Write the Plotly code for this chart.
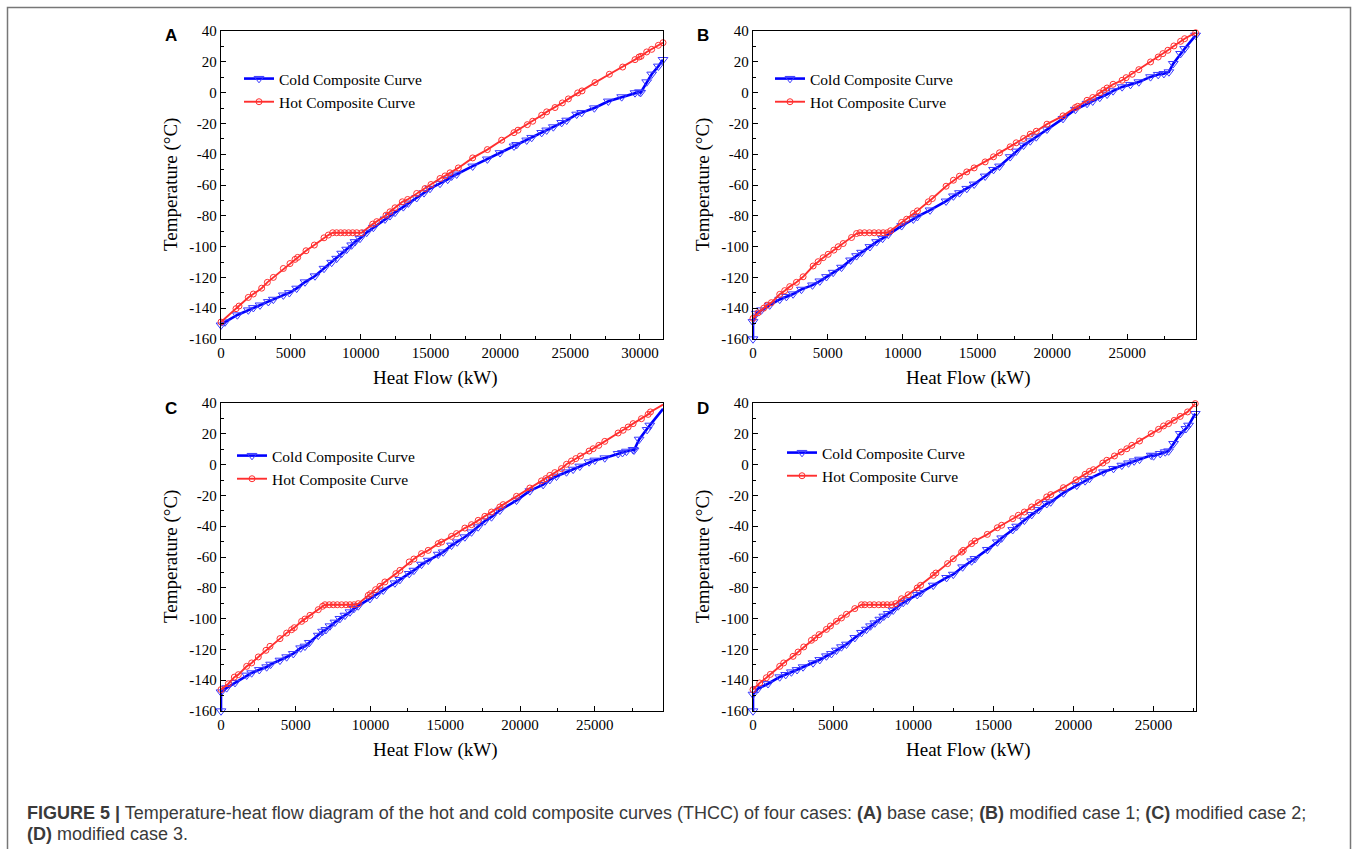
import plotly.graph_objects as go

W, H = 1357, 849

# ---------------- data ----------------
A_hot_x = [0, 1074, 1289, 1957, 2315, 2912, 3318, 3748, 4464, 4941, 5300, 5490, 6087, 6684, 7376, 7686, 7996, 8280, 8570, 8850,
           9140, 9430, 9720, 10073, 10861, 11150, 11816, 12102, 12460, 12985, 13367, 14012, 14608, 15038, 15683, 16040, 16398, 16995, 18022, 19072,
           20098, 20981, 21268, 21936, 22318, 22963, 23321, 23918, 24443, 24873, 25541, 25851, 26782, 27808, 28763, 29646, 29933, 30076, 30482, 30840,
           31318, 31650]
A_hot_y = [-149, -140.3, -138.6, -133, -130.8, -127, -123.2, -120, -114.2, -111, -108.3, -107, -102.7, -99, -94.3, -92.5, -91, -91, -91, -91,
           -91, -91, -91, -91, -85.4, -83.8, -79.6, -77.4, -74.8, -70.9, -69.4, -65.5, -62.3, -59.7, -55.8, -54.1, -52.1, -48.9, -42.4, -37,
           -30.9, -26, -24.4, -20.8, -18.6, -14.7, -12.5, -9.7, -6.7, -4.1, -0.2, 1.1, 6.5, 11.9, 16.6, 21.4, 23.1, 23.6, 26.4, 28.1,
           30.7, 32.4]
A_cold_x = [0, 287, 1170, 1957, 2315, 2793, 3390, 3748, 4464, 4894, 5418, 6015, 6731, 7376, 7925, 8283, 8641, 8999, 9357, 9596,
            9954, 10431, 10909, 11744, 12102, 12460, 13057, 13415, 14012, 14537, 14966, 15683, 16231, 16518, 16876, 18022, 19072, 19979, 20981, 21173,
            21889, 22247, 22963, 23321, 23798, 24395, 24753, 25469, 25827, 26735, 27737, 28692, 29646, 29957, 30050, 30482, 30840, 31318, 31650]
A_cold_y = [-151, -149, -144.4, -141.2, -139.7, -138, -135.8, -134.3, -131.5, -130, -127.1, -123, -119.1, -114.2, -110.3, -107.7, -104.4, -101.8, -99, -96.9,
            -94.7, -90.8, -87.6, -82.2, -80, -77.8, -74.2, -71.8, -68.3, -65.1, -62.3, -59, -56.4, -54.3, -53, -47.8, -43.2, -39.1, -34.8, -33.8,
            -30.9, -29.2, -26, -24.4, -22.3, -19.5, -18, -14.1, -13, -10, -5.6, -2.8, -0.2, 0.4, 0, 6.9, 11.9, 17.1, 21.4]

B_hot_x = [0, 335, 714, 937, 1228, 1786, 2120, 2455, 2902, 3348, 4018, 4352, 4687, 5022, 5401, 5692, 6026, 6584, 6919, 7142,
           7450, 7780, 8100, 8400, 8700, 8970, 9196, 9932, 10267, 10714, 10982, 11718, 11986, 12901, 13392, 13794, 14285, 14776, 15512, 16070,
           16472, 17186, 17588, 18079, 18526, 18927, 19642, 20713, 21539, 21695, 22320, 22700, 23168, 23436, 23659, 24061, 24664, 24932, 25334, 25780,
           26561, 27074, 27387, 27722, 28123, 28570, 28838, 29574]
B_hot_y = [-146.6, -143, -140, -138, -136.4, -131, -128.6, -126, -123.2, -119.6, -112.6, -109.8, -107.2, -105, -102.3, -100.1, -98, -94.1, -91.5, -91,
           -91, -91, -91, -91, -91, -91, -89.7, -84.3, -82.2, -78.5, -76.8, -70.9, -68.8, -60.8, -56.9, -54.3, -51.5, -48.9, -45, -41.7,
           -39.1, -35.2, -32.6, -29.8, -27, -25.1, -20.5, -15.1, -9.7, -8.9, -5, -3.2, -0.2, 1.5, 3, 5.4, 8, 9.7, 11.9, 14.9,
           19.9, 23.1, 25.3, 27.5, 30.3, 33.3, 35, 38.9]
B_cold_x = [0, 0, 223, 558, 1116, 1786, 2232, 2678, 3236, 3973, 4464, 4910, 5357, 5915, 6517, 6919, 7254, 7812, 8258, 8660,
            9040, 9932, 10714, 10982, 11830, 12901, 13392, 13794, 14285, 14776, 15512, 16070, 16472, 17186, 17588, 18079, 18526, 18927, 19642, 20713,
            21539, 22320, 22700, 23168, 23659, 24061, 24664, 25222, 25780, 26561, 27074, 27454, 27789, 28079, 28570, 28838, 29574]
B_cold_y = [-160, -148.8, -143.4, -141.2, -138, -134.3, -132.5, -130.8, -127.8, -125, -122.4, -119.6, -116.8, -113.5, -108.8, -106, -103.8, -100.1, -96.9, -94.7,
            -92.1, -86.5, -82.2, -80.6, -76.3, -70.5, -67.2, -65.1, -62.3, -59.5, -54.3, -50, -47.8, -41.7, -38.1, -34.2, -31.4, -28.8, -23.8, -16.9,
            -11, -7.1, -5.6, -3.2, -1.1, 1.1, 3.7, 5.2, 6.9, 10.2, 11.7, 12.3, 13.4, 18.8, 25.3, 28.5, 37.2]

C_hot_x = [0, 490, 891, 1159, 1716, 2050, 2495, 3008, 3275, 3944, 4389, 4723, 4902, 5392, 5615, 5949, 6506, 6795, 6951, 7240,
           7510, 7780, 8066, 8355, 8622, 8890, 9179, 9848, 10005, 10338, 10628, 10962, 11697, 11964, 12588, 12900, 13413, 13858, 14527, 14750,
           15418, 15752, 16309, 16755, 17200, 17646, 18091, 18648, 18871, 19763, 20654, 21434, 21723, 21991, 22325, 22771, 23104, 23439, 23728, 24040,
           24619, 24887, 25266, 25667, 26558, 26893, 27227, 27561, 28118, 28564, 28720, 29566]
C_hot_y = [-146.1, -142.3, -138, -136.4, -131, -128.8, -124.9, -120.6, -118, -113, -109.4, -107.2, -105.9, -101.8, -100.3, -97.9, -94.2, -92, -91, -91,
           -91, -91, -91, -91, -91, -91, -90.3, -84.9, -83.8, -81.2, -79, -76.2, -70.8, -68.7, -63.2, -61.3, -57.8, -55.7, -51.3, -50.3,
           -46.6, -44.8, -41.2, -39, -36.2, -33.6, -30.8, -27.5, -26, -20.6, -15.2, -10.6, -9.1, -7, -5.2, -2.6, 0.2, 2.3, 3.9, 5.6,
           8.8, 10.3, 12.5, 15.1, 20.5, 22.3, 24.4, 26.6, 29.8, 32.6, 34.2, 38.9]
C_cold_x = [0, 0, 379, 936, 1716, 2050, 2562, 3053, 3320, 3944, 4389, 4835, 5325, 5615, 5904, 6506, 6795, 7018, 7286, 7620,
            7954, 8288, 8622, 8890, 9179, 9959, 10405, 10850, 11630, 11964, 12588, 12900, 13413, 13858, 14527, 14861, 15418, 15797, 16309, 16755,
            17200, 17646, 18091, 18648, 19763, 20654, 21545, 21991, 22437, 23104, 23550, 23996, 24619, 24998, 25667, 26558, 26848, 27116, 27561, 27620,
            27963, 28497, 28675, 29566]
C_cold_y = [-160, -147.7, -145, -141.6, -136.8, -135.3, -133.2, -131.4, -129.7, -127.1, -124.9, -122.8, -119.1, -118, -115.6, -110.9, -108.3, -107.2, -104.8, -102.4,
            -100, -97.9, -95.7, -93.5, -91.8, -87.1, -84.5, -81.6, -76.9, -74.7, -70.8, -68.7, -64.8, -62.2, -58.3, -56.8, -52.4, -50.3, -47, -43.8,
            -40.5, -36.6, -34, -29.7, -23.2, -17.1, -13, -9.8, -7.6, -4.8, -3.1, -1.1, 1.7, 2.8, 4.3, 7.1, 7.7, 8.6, 9.7, 9.3,
            16.4, 22.7, 25.5, 36.3]

D_hot_x = [0, 417, 833, 1083, 1667, 1917, 2500, 2812, 3166, 3646, 3854, 4125, 4583, 4833, 5208, 5521, 5833, 6354, 6770, 6979,
           7290, 7560, 7850, 8125, 8375, 8645, 8917, 9271, 9687, 10250, 10458, 11250, 11416, 12145, 12500, 13021, 13125, 13645, 13854, 14625,
           15250, 15521, 16208, 16562, 16937, 17395, 17812, 18333, 18583, 19375, 20166, 20729, 21000, 21250, 21833, 22083, 22562, 22979, 23333, 23645,
           24125, 24854, 25312, 25625, 25937, 26291, 26666, 27125, 27604]
D_hot_y = [-146.1, -141.8, -138.4, -136.2, -131, -128.8, -124.5, -121.7, -118.4, -114.1, -112.6, -110.4, -107, -104.8, -101.8, -99.6, -97.2, -93.5, -91, -91,
           -91, -91, -91, -91, -91, -91, -90.3, -87.1, -84.5, -80.1, -78.4, -71.9, -70.4, -64.3, -61.1, -56.8, -55.7, -51.3, -49.6, -45.3,
           -41, -39.4, -35.1, -32.9, -30.8, -27.5, -24.7, -21, -19.5, -15, -9.8, -6.3, -4.4, -3.3, 1, 2.8, 5.6, 8.2, 10.3, 12.5,
           15.3, 20.1, 22.9, 25.1, 26.6, 28.7, 31.3, 34.2, 39.6]
D_cold_x = [0, 0, 312, 937, 1667, 2041, 2396, 2750, 3125, 3750, 4166, 4583, 4896, 5208, 5521, 5833, 6354, 6770, 7083, 7333,
            7604, 7916, 8166, 8437, 8750, 9062, 9375, 9625, 10250, 10458, 11250, 12083, 12500, 13083, 13645, 13854, 14625, 15250, 15521, 16208,
            16458, 16937, 17395, 17812, 18333, 18583, 19375, 20208, 20729, 21000, 21875, 22500, 23020, 23437, 23791, 24125, 24854, 25000, 25416, 25729,
            25937, 26250, 26666, 27020, 27187, 27604]
D_cold_y = [-160, -149.2, -145.5, -142.3, -137.9, -136.4, -134.7, -133.2, -131.4, -128.8, -126.7, -124.3, -122.8, -120.6, -118.4, -116.7, -112.4, -109.1, -107, -104.8,
            -102.9, -100.5, -98.5, -96.8, -94.6, -91.8, -89.6, -88.1, -84.5, -83.2, -78.4, -73.4, -71.3, -66.5, -62.6, -61.1, -55.2, -50.3, -47.7, -42.3,
            -40.1, -36.2, -32.5, -29.3, -25.4, -24.3, -18.4, -13.5, -10.6, -9.1, -4.8, -2.6, -0.5, 1, 2.3, 3.4, 6, 5.6, 7.1, 8.2,
            8.8, 13.6, 20.1, 23.3, 25.5, 33.1]

x_max = [31650, 29600, 29560, 27650]
panel_letters = ["A", "B", "C", "D"]
y_tick_vals = [-160, -140, -120, -100, -80, -60, -40, -20, 0, 20, 40]
y_tick_text = ["-160", "-140", "-120", "-100", "-80", "-60", "-40", "-20", "0", "20", "40"]
cold_name = "Cold Composite Curve"
hot_name = "Hot Composite Curve"
x_title = "Heat Flow (kW)"
y_title = "Temperature (°C)"

# ---------------- layout geometry (pixels) ----------------
boxes = [(221, 663, 31, 339), (753, 1196, 31, 339), (221, 663, 403, 711), (753, 1196, 403, 711)]
legend_pos = [(239, 62), (770, 62), (232, 439), (782, 436)]

def px_x(p):
    return p / W

def px_y(p):
    return 1 - p / H

SERIF = "Liberation Serif, Times New Roman, serif"
BLUE = "#0000FF"
RED = "#FF2F2F"

series = [(A_cold_x, A_cold_y, A_hot_x, A_hot_y), (B_cold_x, B_cold_y, B_hot_x, B_hot_y),
          (C_cold_x, C_cold_y, C_hot_x, C_hot_y), (D_cold_x, D_cold_y, D_hot_x, D_hot_y)]

fig = go.Figure()
layout = dict(template="none", width=W, height=H,
              margin=dict(l=0, r=0, t=0, b=0, pad=0, autoexpand=False),
              paper_bgcolor="white", plot_bgcolor="white", showlegend=True)
annotations = []

for i, (cx, cy, hx, hy) in enumerate(series):
    k = "" if i == 0 else str(i + 1)
    leg = "legend" if i == 0 else f"legend{i + 1}"
    fig.add_trace(go.Scatter(x=cx, y=cy, mode="lines+markers", name=cold_name,
                             line=dict(color=BLUE, width=2.6),
                             marker=dict(symbol="triangle-down-open", size=8.5, color="#3a3aff",
                                         line=dict(width=1)),
                             xaxis="x" + k, yaxis="y" + k, legend=leg, cliponaxis=False))
    fig.add_trace(go.Scatter(x=hx, y=hy, mode="lines+markers", name=hot_name,
                             line=dict(color=RED, width=1.9),
                             marker=dict(symbol="circle-open", size=6, color=RED,
                                         line=dict(width=1)),
                             xaxis="x" + k, yaxis="y" + k, legend=leg, cliponaxis=False))
    l, r, t, b = boxes[i]
    layout["xaxis" + k] = dict(domain=[px_x(l), px_x(r)], anchor="y" + k, range=[0, x_max[i]],
                               automargin=False,
                               tick0=0, dtick=5000, tickformat="d", ticks="inside", ticklen=5,
                               tickwidth=1, tickcolor="black", showline=True, linecolor="black",
                               linewidth=1.3, mirror=True, showgrid=False, zeroline=False,
                               tickfont=dict(family=SERIF, size=15, color="black"),
                               minor=dict(ticks="inside", ticklen=3, tickcolor="black",
                                          tick0=0, dtick=2500, showgrid=False))
    layout["yaxis" + k] = dict(domain=[px_y(b), px_y(t)], anchor="x" + k, range=[-160, 40],
                               automargin=False,
                               tickmode="array", tickvals=y_tick_vals, ticktext=y_tick_text,
                               ticks="inside", ticklen=5, tickwidth=1, tickcolor="black",
                               showline=True, linecolor="black", linewidth=1.3, mirror=True,
                               showgrid=False, zeroline=False,
                               tickfont=dict(family=SERIF, size=15, color="black"),
                               minor=dict(ticks="inside", ticklen=3, tickcolor="black",
                                          tickmode="linear", tick0=-150, dtick=20, showgrid=False))
    lx, ly = legend_pos[i]
    layout[leg] = dict(x=px_x(lx), y=px_y(ly), xanchor="left", yanchor="top",
                       bgcolor="rgba(0,0,0,0)", borderwidth=0, itemwidth=30,
                       font=dict(family=SERIF, size=15.5, color="black"), tracegroupgap=0)
    annotations.append(dict(x=px_x((l + r) / 2 - 6), y=px_y(b + 39), xref="paper", yref="paper",
                            text=x_title, showarrow=False, xanchor="center", yanchor="middle",
                            font=dict(family=SERIF, size=19, color="black")))
    annotations.append(dict(x=px_x(l - 50), y=px_y((t + b) / 2), xref="paper", yref="paper",
                            text=y_title, showarrow=False, textangle=-90, xanchor="center",
                            yanchor="middle", font=dict(family=SERIF, size=19, color="black")))
    annotations.append(dict(x=px_x(l - 50), y=px_y(t + 5), xref="paper", yref="paper",
                            text="<b>" + panel_letters[i] + "</b>", showarrow=False,
                            xanchor="center", yanchor="middle",
                            font=dict(family="Liberation Sans, Arial, sans-serif", size=17, color="black")))

CAP = "Liberation Sans, Arial, sans-serif"
annotations.append(dict(x=px_x(25), y=px_y(813), xref="paper", yref="paper", xanchor="left", yanchor="middle",
                        showarrow=False, align="left",
                        text="<b>FIGURE 5 |</b> Temperature-heat flow diagram of the hot and cold composite curves (THCC) of four cases: "
                             "<b>(A)</b> base case; <b>(B)</b> modified case 1; <b>(C)</b> modified case 2;",
                        font=dict(family=CAP, size=18, color="#3a3a3a")))
annotations.append(dict(x=px_x(25), y=px_y(834), xref="paper", yref="paper", xanchor="left", yanchor="middle",
                        showarrow=False, align="left", text="<b>(D)</b> modified case 3.",
                        font=dict(family=CAP, size=18, color="#3a3a3a")))

layout["annotations"] = annotations
layout["shapes"] = [dict(type="rect", xref="paper", yref="paper", x0=px_x(7.5), x1=px_x(1350.5),
                         y0=-0.02, y1=px_y(7.5), line=dict(color="#777777", width=1.5),
                         fillcolor="rgba(0,0,0,0)", layer="below")]
fig.update_layout(**layout)
fig.write_html("out.html", config={"displayModeBar": False},
               post_script="document.body.style.margin='0';document.body.style.overflow='hidden';")
